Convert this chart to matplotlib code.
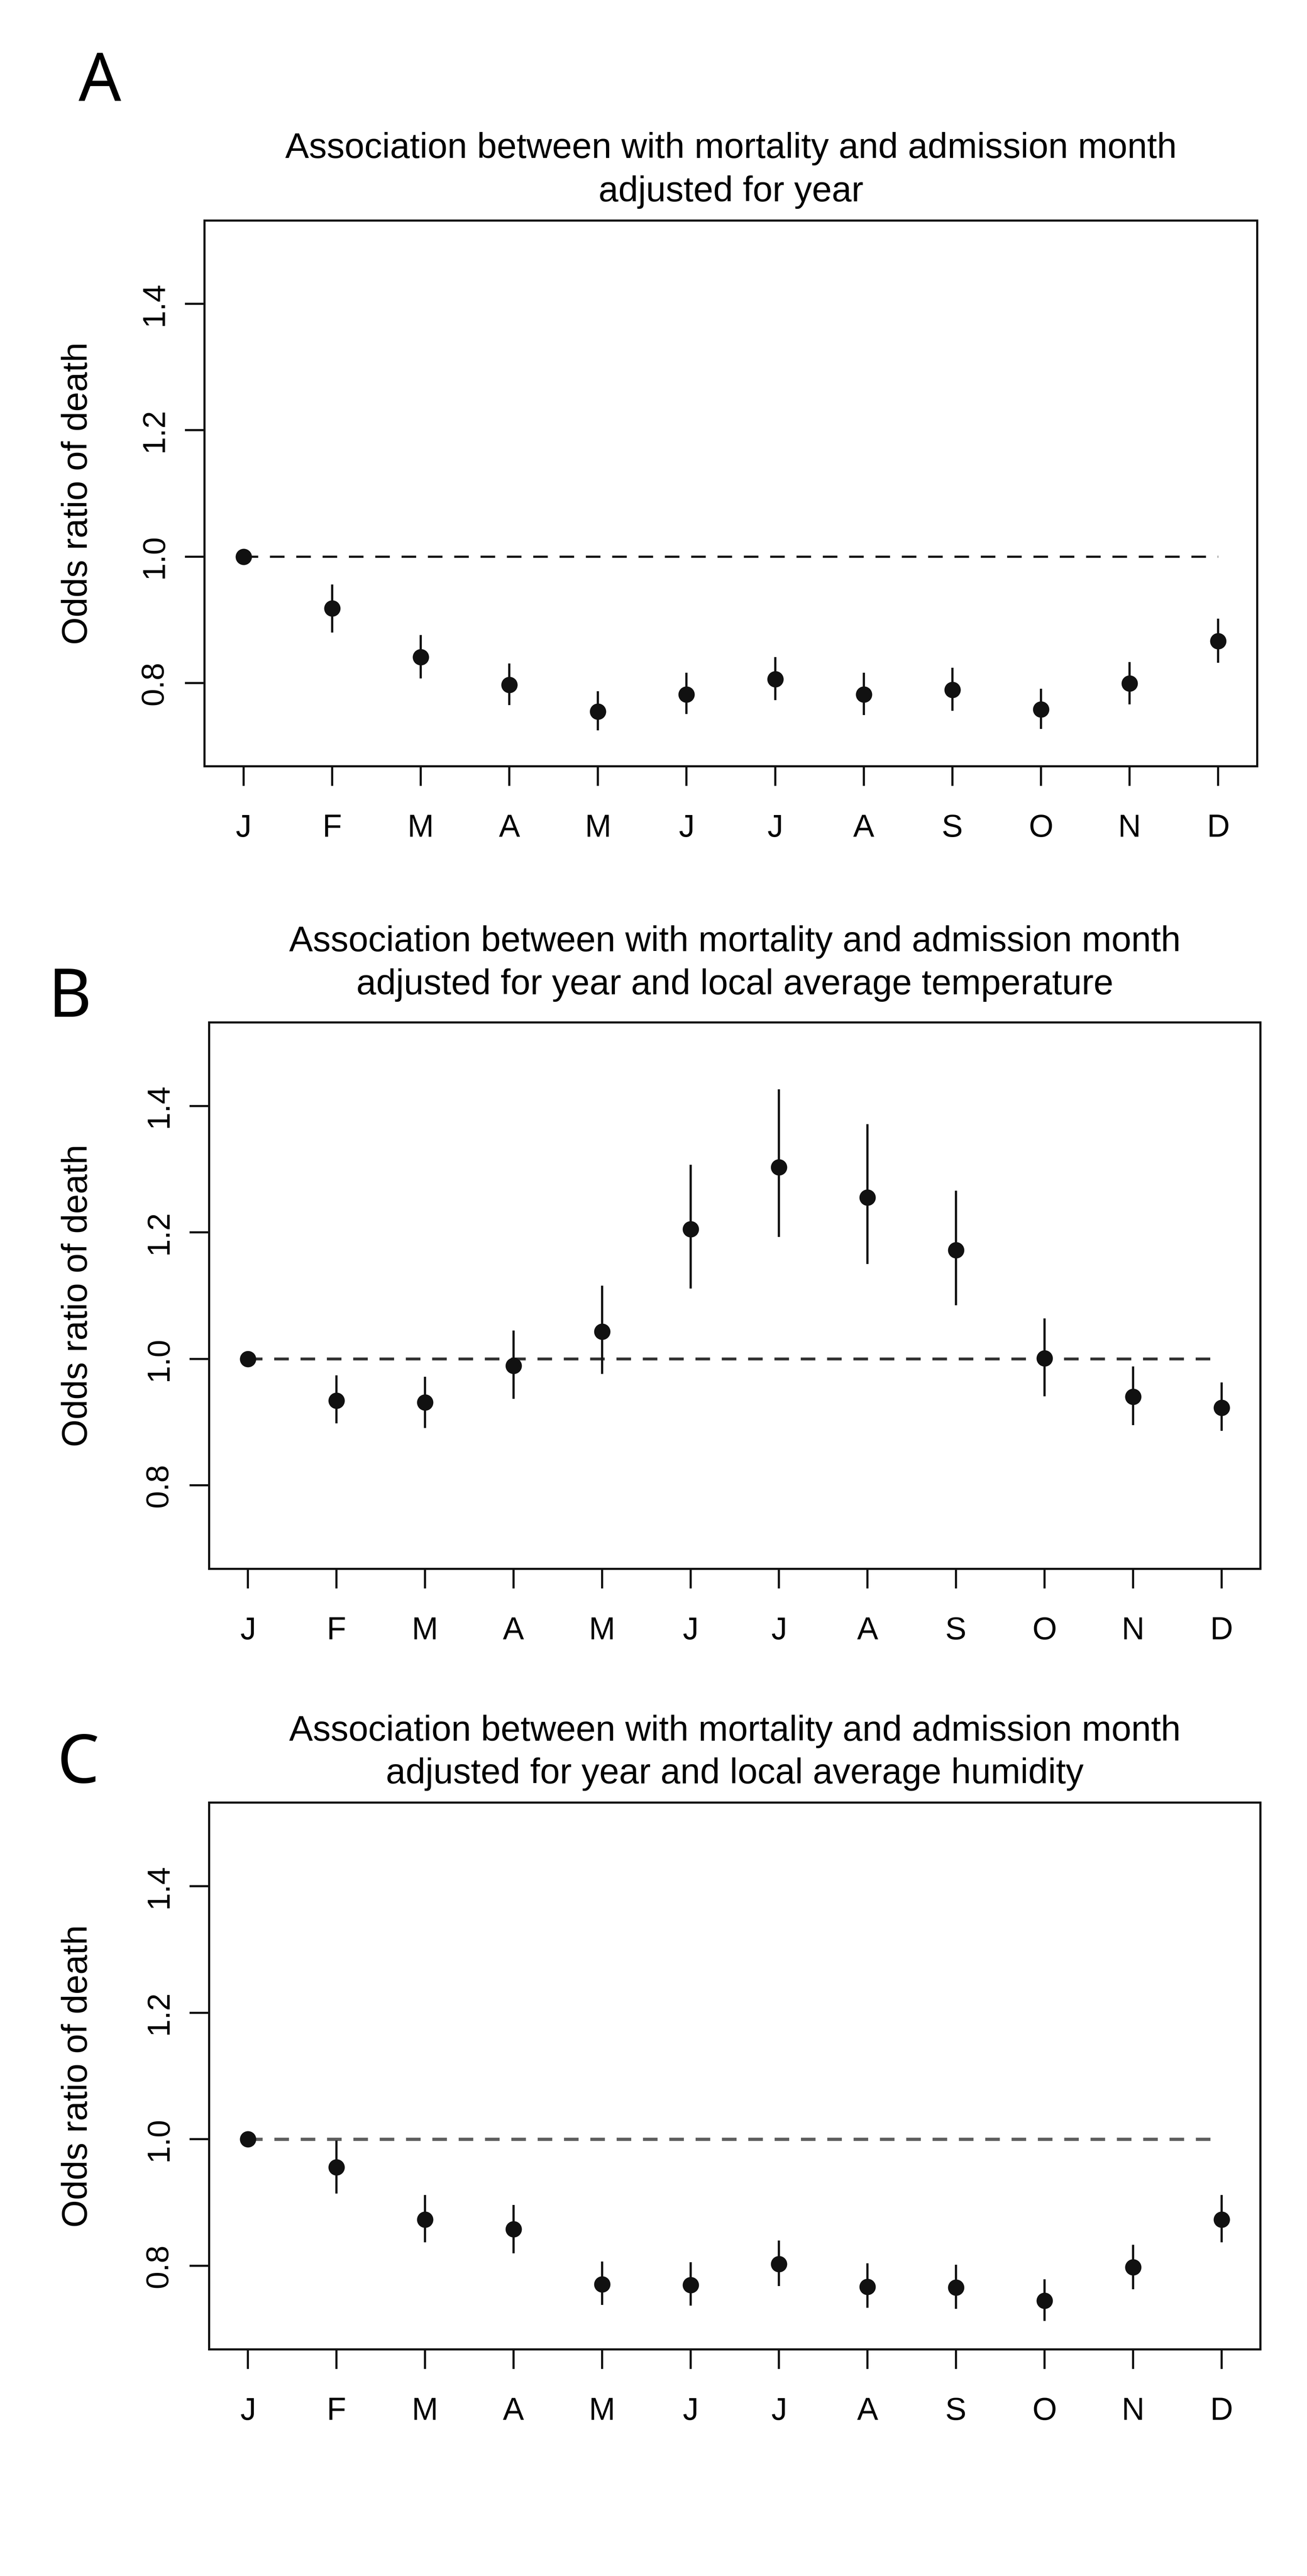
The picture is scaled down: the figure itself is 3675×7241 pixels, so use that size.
import matplotlib.pyplot as plt
import numpy as np

plt.rcParams['font.family'] = ['Liberation Sans', 'DejaVu Sans']
plt.rcParams['lines.scale_dashes'] = False

months = ['J', 'F', 'M', 'A', 'M', 'J', 'J', 'A', 'S', 'O', 'N', 'D']
x = np.arange(1, 13)

# panel A: adjusted for year
or_a = [1.0, 0.918, 0.841, 0.797, 0.755, 0.782, 0.806, 0.782, 0.789, 0.758, 0.799, 0.866]
lo_a = [1.0, 0.880, 0.807, 0.765, 0.725, 0.751, 0.773, 0.749, 0.756, 0.727, 0.766, 0.832]
hi_a = [1.0, 0.956, 0.876, 0.831, 0.787, 0.816, 0.841, 0.816, 0.824, 0.791, 0.833, 0.902]

# panel B: adjusted for year and temperature
or_b = [1.0, 0.934, 0.931, 0.989, 1.043, 1.205, 1.303, 1.255, 1.172, 1.001, 0.940, 0.923]
lo_b = [1.0, 0.898, 0.891, 0.937, 0.976, 1.111, 1.193, 1.150, 1.085, 0.941, 0.895, 0.886]
hi_b = [1.0, 0.974, 0.972, 1.045, 1.116, 1.307, 1.426, 1.371, 1.266, 1.064, 0.988, 0.963]

# panel C: adjusted for year and humidity
or_c = [1.0, 0.956, 0.873, 0.858, 0.771, 0.770, 0.803, 0.767, 0.766, 0.745, 0.798, 0.873]
lo_c = [1.0, 0.914, 0.837, 0.820, 0.738, 0.737, 0.768, 0.734, 0.732, 0.713, 0.763, 0.837]
hi_c = [1.0, 0.998, 0.912, 0.896, 0.807, 0.806, 0.840, 0.804, 0.802, 0.779, 0.833, 0.912]

title1 = 'Association between with mortality and admission month'
sub_a = 'adjusted for year'
sub_b = 'adjusted for year and local average temperature'
sub_c = 'adjusted for year and local average humidity'

W, H = 3675, 7241
fig = plt.figure(figsize=(W / 100, H / 100), dpi=100)

# pixel boxes: left, top, right, bottom
boxes = [(575, 620, 3535, 2154), (588, 2874, 3544, 4410), (588, 5067, 3544, 6604)]
title_y = [(444, 566), (2674, 2795), (4893, 5013)]
letters = [('A', 221, 285), ('B', 136, 2858), ('C', 161, 5011)]
dash_style = [('#151515', 4.5), ('#333333', 5.8), ('#5e5e5e', 6.6)]
panels = [(or_a, lo_a, hi_a, sub_a), (or_b, lo_b, hi_b, sub_b), (or_c, lo_c, hi_c, sub_c)]

for i, (orv, lo, hi, sub) in enumerate(panels):
    l, t, r, b = boxes[i]
    ax = fig.add_axes([l / W, 1 - b / H, (r - l) / W, (b - t) / H])

    ax.plot([1, 12], [1, 1], color=dash_style[i][0], lw=dash_style[i][1],
            dashes=(29.5, 23.8), zorder=1)
    ax.vlines(x, lo, hi, color='#111111', lw=4.5, zorder=2)
    ax.plot(x, orv, 'o', color='#111111', ms=32, zorder=3)

    ax.set_xlim(0.56, 12.44)
    ax.set_ylim(0.668, 1.532)
    ax.set_xticks(x)
    ax.set_xticklabels(months)
    ax.set_yticks([0.8, 1.0, 1.2, 1.4])
    ax.set_yticklabels(['0.8', '1.0', '1.2', '1.4'])
    ax.tick_params(axis='both', direction='out', length=39.6, width=4.3,
                   labelsize=64, color='#111111')
    ax.tick_params(axis='x', pad=56)
    ax.tick_params(axis='y', pad=31, labelrotation=90)
    for lab in ax.get_yticklabels():
        lab.set_verticalalignment('center')
    for sp in ax.spines.values():
        sp.set_linewidth(4.3)
        sp.set_color('#111111')

    ax.text((219 - l) / (r - l), 0.5, 'Odds ratio of death', transform=ax.transAxes,
            rotation=90, ha='center', va='center', fontsize=72)

    cx = (l + r) / 2 / W
    fig.text(cx, 1 - title_y[i][0] / H, title1, ha='center', va='baseline', fontsize=72)
    fig.text(cx, 1 - title_y[i][1] / H, sub, ha='center', va='baseline', fontsize=72)

    let, lx, ly = letters[i]
    fig.text(lx / W, 1 - ly / H, let, ha='left', va='baseline', fontsize=135,
             family=['Noto Sans', 'DejaVu Sans'])

fig.savefig('out.png', dpi=100)
